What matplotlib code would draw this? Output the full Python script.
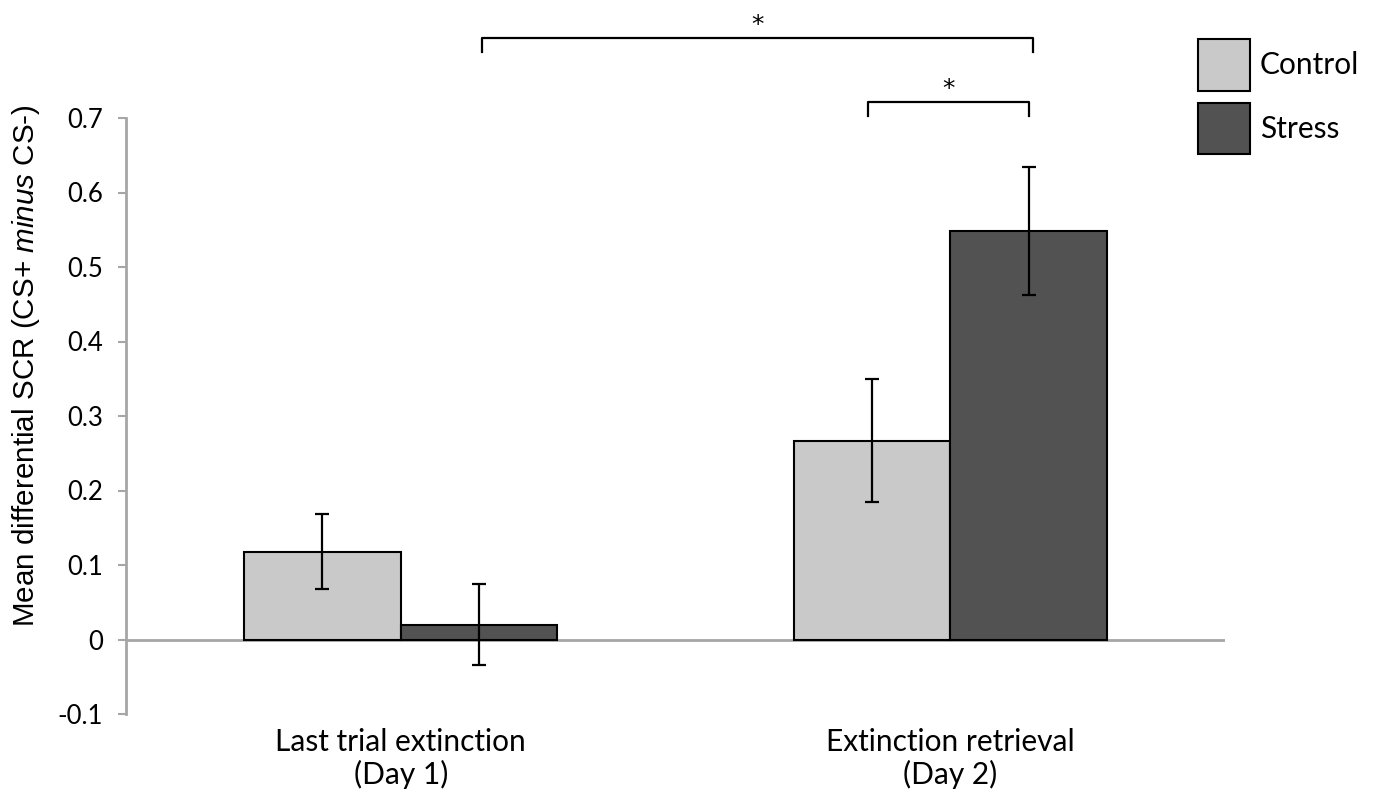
import matplotlib
matplotlib.use("Agg")
import matplotlib.pyplot as plt
import numpy as np

plt.rcParams['font.family'] = ['Lato', 'DejaVu Sans']
plt.rcParams['mathtext.fontset'] = 'custom'
plt.rcParams['mathtext.rm'] = 'Liberation Sans'
plt.rcParams['mathtext.it'] = 'Liberation Sans:italic'

categories = ["Last trial extinction\n(Day 1)", "Extinction retrieval\n(Day 2)"]
groups = ["Control", "Stress"]
control_vals = [0.118, 0.267]
control_err = [0.050, 0.083]
stress_vals = [0.020, 0.548]
stress_err = [0.054, 0.086]
colors = ["#c9c9c9", "#525252"]
yticks = [-0.1, 0, 0.1, 0.2, 0.3, 0.4, 0.5, 0.6, 0.7]
ytick_labels = ["-0.1", "0", "0.1", "0.2", "0.3", "0.4", "0.5", "0.6", "0.7"]

W, H = 1376, 802
fig = plt.figure(figsize=(W / 100, H / 100), dpi=100)
ax = fig.add_axes([126 / W, 1 - 714 / H, (1225 - 126) / W, (714 - 118) / H])

x = np.arange(len(categories))
bw = 0.285
ek = dict(ecolor='black', elinewidth=1.6, capsize=5, capthick=1.6)
b1 = ax.bar(x - bw / 2, control_vals, bw, yerr=control_err, color=colors[0],
            edgecolor='black', linewidth=1.5, label=groups[0], error_kw=ek, zorder=3)
b2 = ax.bar(x + bw / 2, stress_vals, bw, yerr=stress_err, color=colors[1],
            edgecolor='black', linewidth=1.5, label=groups[1], error_kw=ek, zorder=3)

ax.set_xlim(-0.5, 1.5)
ax.set_ylim(-0.1, 0.7)
ax.axhline(0, color='#a6a6a6', lw=2, zorder=2)
for s in ['top', 'right', 'bottom']:
    ax.spines[s].set_visible(False)
ax.spines['left'].set_color('#a6a6a6')
ax.spines['left'].set_linewidth(2)
ax.set_yticks(yticks)
ax.set_yticklabels(ytick_labels, fontsize=18.5)
ax.tick_params(axis='y', direction='out', length=5.5, width=1.5, color='#a6a6a6', pad=11)
ax.set_xticks(x)
ax.set_xticklabels(categories, fontsize=21.5, linespacing=1.15)
ax.tick_params(axis='x', length=0, pad=10)

fig.text(26 / W, 1 - 366 / H, r"Mean differential SCR (CS+ $\it{minus}$ CS-)",
         rotation=90, va='center', ha='center', fontsize=21.3, family='Liberation Sans')

# significance brackets
def bracket(x0, x1, y, h, label):
    ax.plot([x0, x0, x1, x1], [y - h, y, y, y - h], color='black', lw=1.6,
            clip_on=False, solid_joinstyle='round')
    ax.text((x0 + x1) / 2, y + 0.008, label, ha='center', va='baseline', fontsize=18,
            family='DejaVu Sans', clip_on=False)

bracket(x[0] + bw / 2 + 0.005, x[1] + bw / 2 + 0.008, 0.807, 0.018, "*")
bracket(x[1] - bw / 2 - 0.007, x[1] + bw / 2, 0.721, 0.018, "*")

fig.legend(handles=[b1, b2], labels=groups, loc='upper left',
           bbox_to_anchor=(1198 / W, 1 - 39 / H), frameon=False, fontsize=21.5,
           handlelength=1.74, handleheight=2.28, labelspacing=0.40,
           handletextpad=0.33, borderpad=0, borderaxespad=0)

fig.savefig("out.png", dpi=100)
